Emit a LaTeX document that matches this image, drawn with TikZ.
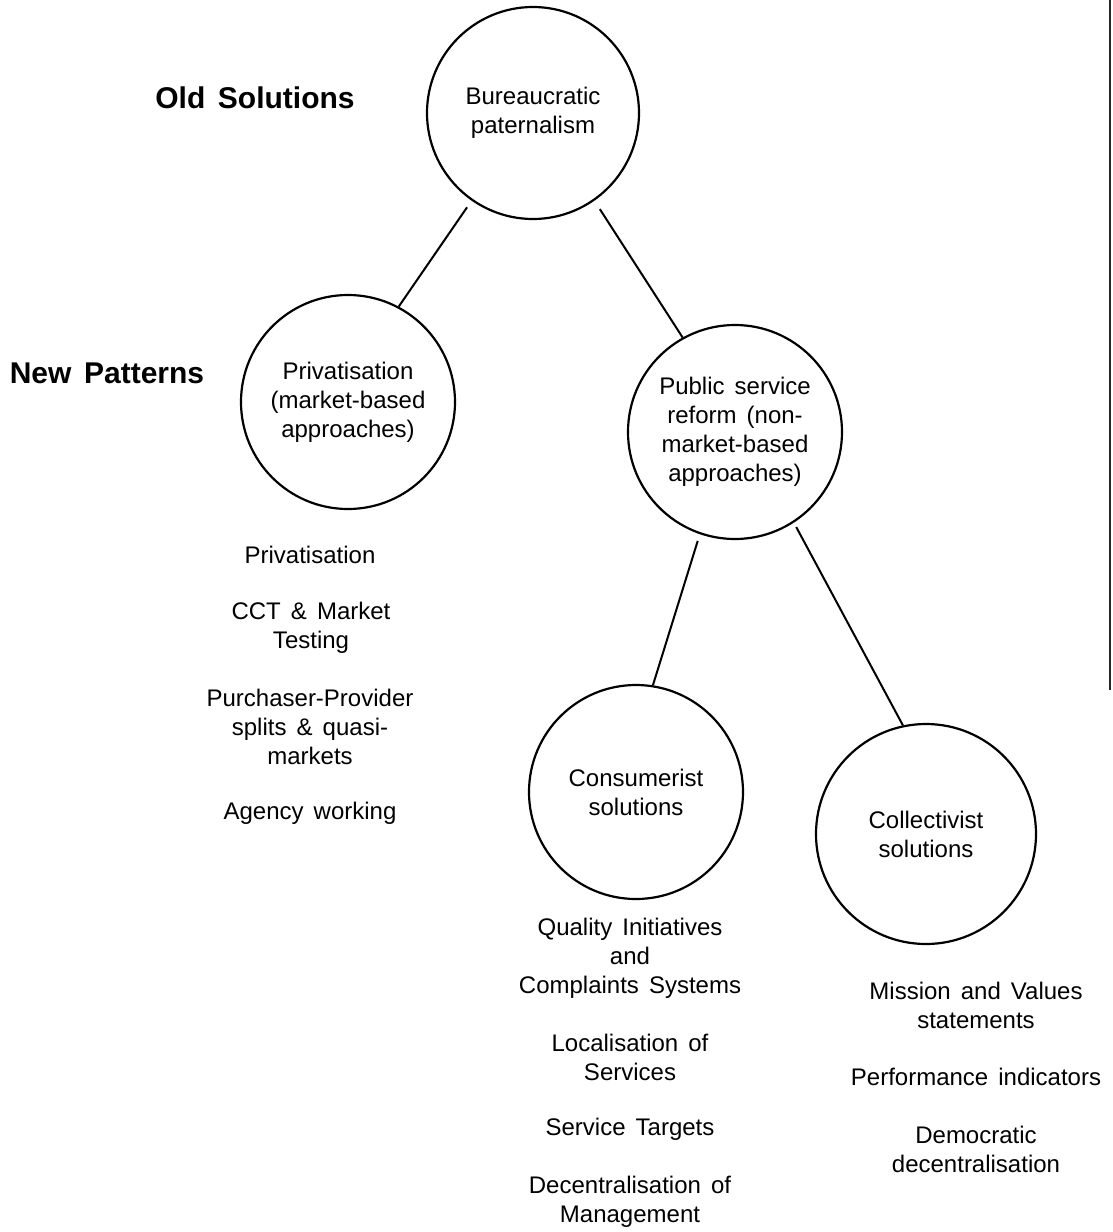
\documentclass[tikz,border=0pt]{standalone}
\usepackage{fontspec}
\setmainfont{Liberation Sans}
\newcommand\widewords{\spaceskip=0.42em plus 0.1em\relax}
\begin{document}
\begin{tikzpicture}[x=1pt,y=-1pt,
  body/.style={font=\fontsize{24}{29}\selectfont, align=center, inner sep=0pt,
    execute at begin node=\widewords},
  heading/.style={font=\fontsize{30}{36}\selectfont\bfseries, inner sep=0pt,
    execute at begin node=\widewords},
  bubble/.style={body, draw, circle, line width=2.2pt, minimum size=#1},
  link/.style={line width=2pt}]
  \fill[white] (0,0) rectangle (1113,1232);
  \useasboundingbox (0,0) rectangle (1113,1232);

  % rule along the right-hand edge
  \coordinate (ruletop) at (1110,0);
  \coordinate (rulebot) at (1110,690);
  \draw[line width=2pt, black!85] (ruletop) -- (rulebot);

  % row labels
  \node[heading] (old) at (255,98) {Old Solutions};
  \node[heading] (new) at (107,373) {New Patterns};

  % the five circles
  \node[bubble=212pt] (top)  at (533,113) {Bureaucratic\\paternalism};
  \node[bubble=214pt] (priv) at (348,402) {Privatisation\\(market-based\\approaches)};
  \node[bubble=214pt] (pub)  at (735,432) {Public service\\reform (non-\\market-based\\approaches)};
  \node[bubble=214pt] (cons) at (636,792) {Consumerist\\solutions};
  \node[bubble=220pt] (coll) at (926,834) {Collectivist\\solutions};

  % branches
  \draw[link, shorten <=8pt] (top.235) -- (priv.62);
  \draw[link, shorten <=10pt] (top.305) -- (pub.119);
  \draw[link, shorten <=7pt] (pub.251.6) -- (cons.81);
  \draw[link, shorten <=5pt] (pub.303.7) -- (coll.102);

  % market-based measures
  \node[body] (p1) at (310,555) {Privatisation};
  \node[body] (p2) at (311,627.5) {CCT \& Market\\Testing};
  \node[body] (p3) at (310,727) {Purchaser-Provider\\splits \& quasi-\\markets};
  \node[body] (p4) at (310,813) {Agency working};

  % consumerist measures
  \node[body] (c1) at (630,958) {Quality Initiatives\\and\\Complaints Systems};
  \node[body] (c2) at (630,1057.5) {Localisation of\\Services};
  \node[body] (c3) at (630,1129) {Service Targets};
  \node[body] (c4) at (630,1201.5) {Decentralisation of\\Management};

  % collectivist measures
  \node[body] (k1) at (976,1005.5) {Mission and Values\\statements};
  \node[body] (k2) at (976,1077) {Performance indicators};
  \node[body] (k3) at (976,1149.5) {Democratic\\decentralisation};
\end{tikzpicture}
\end{document}
